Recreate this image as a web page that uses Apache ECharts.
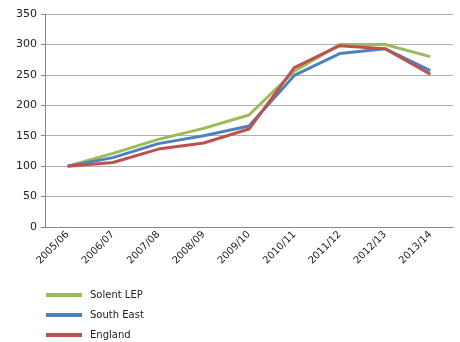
<!DOCTYPE html>
<html>
<head>
<meta charset="utf-8">
<script src="https://cdn.jsdelivr.net/npm/echarts@6/dist/echarts.min.js"></script>
<style>
  html, body { margin: 0; padding: 0; background: #fff; }
  #main { width: 460px; height: 342px; }
</style>
</head>
<body>
<div id="main"></div>
<script>
  // 年份
  var years = ['2005/06', '2006/07', '2007/08', '2008/09', '2009/10', '2010/11', '2011/12', '2012/13', '2013/14'];
  var solentLep = [100, 121, 144, 162, 184, 256, 300, 300, 280];
  var southEast = [100, 114, 137, 150, 166, 249, 285, 293, 257];
  var england = [100, 106, 128, 138, 161, 262, 298, 293, 251];
  var yTicks = [0, 50, 100, 150, 200, 250, 300, 350];

  var chart = echarts.init(document.getElementById('main'));
  chart.setOption({
    animation: false,
    grid: { left: 45, right: 7, top: 14, bottom: 115 },
    legend: {
      orient: 'vertical',
      left: 46,
      top: 289,
      padding: 0,
      itemGap: 8,
      itemWidth: 36,
      itemHeight: 4,
      icon: 'rect',
      textStyle: { fontFamily: 'DejaVu Sans', fontSize: 10, lineHeight: 12, color: '#222', padding: [0, 0, 0, 3] },
      data: ['Solent LEP', 'South East', 'England']
    },
    xAxis: {
      type: 'category',
      data: years,
      axisLine: { lineStyle: { color: '#888' } },
      axisTick: { lineStyle: { color: '#888' }, length: 4 },
      axisLabel: { rotate: 45, fontFamily: 'DejaVu Sans', fontSize: 10, color: '#222', margin: 6 }
    },
    yAxis: {
      type: 'value',
      min: yTicks[0],
      max: yTicks[yTicks.length - 1],
      interval: 50,
      axisLine: { show: true, lineStyle: { color: '#888' } },
      axisTick: { show: true, length: 4, lineStyle: { color: '#888' } },
      splitLine: { lineStyle: { color: '#b0b0b0' } },
      axisLabel: { fontFamily: 'DejaVu Sans', fontSize: 11, color: '#222', margin: 8 }
    },
    series: [
      { name: 'Solent LEP', type: 'line', data: solentLep, symbol: 'none', itemStyle: { color: '#9bbb59' }, lineStyle: { width: 3, color: '#9bbb59' } },
      { name: 'South East', type: 'line', data: southEast, symbol: 'none', itemStyle: { color: '#4f81bd' }, lineStyle: { width: 3, color: '#4f81bd' } },
      { name: 'England', type: 'line', data: england, symbol: 'none', itemStyle: { color: '#c0504d' }, lineStyle: { width: 3, color: '#c0504d' } }
    ]
  });
</script>
</body>
</html>
